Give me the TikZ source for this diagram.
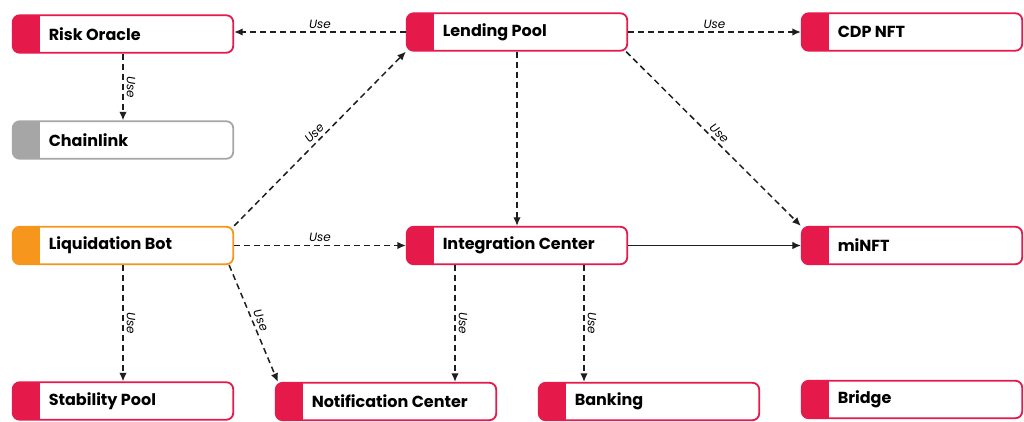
\documentclass[tikz,border=0pt]{standalone}
\usepackage{fontspec}
\setmainfont{Poppins}
\usetikzlibrary{arrows.meta}
\definecolor{cred}{HTML}{E5194A}
\definecolor{corange}{HTML}{F7961C}
\definecolor{cgray}{HTML}{A6A6A6}
\definecolor{cline}{HTML}{1E1E1E}
\tikzset{
  comp/.style={draw=#1, fill=white, line width=1.8pt, rounded corners=7pt,
    minimum width=220.5pt, minimum height=37.5pt, inner xsep=0pt, inner ysep=0pt,
    font=\bfseries\fontsize{16}{18}\selectfont,
    path picture={\fill[#1, sharp corners] (path picture bounding box.south west) rectangle ([xshift=27.5pt]path picture bounding box.north west);}},
  usee/.style={draw=cline, line width=1.5pt, dash pattern=on 6pt off 4pt, -{Latex[length=8.5pt,width=7.5pt]}},
  solidee/.style={draw=cline, line width=1.2pt, -{Latex[length=8.5pt,width=7.5pt]}},
  lbl/.style={font=\itshape\fontsize{12}{14}\selectfont, inner sep=3pt, text=black}
}
\newcommand{\comptext}[1]{\hspace*{36pt}\makebox[184.5pt][l]{#1}}
\begin{document}
\begin{tikzpicture}[x=1pt,y=-1pt]
\fill[white] (0,0) rectangle (1024,421);
\useasboundingbox (0,0) rectangle (1024,421);

\node[comp=cred]    (ro)  at (123,34)    {\comptext{Risk Oracle}};
\node[comp=cgray]   (cl)  at (123,140)   {\comptext{Chainlink}};
\node[comp=corange] (lb)  at (123,245.5) {\comptext{Liquidation Bot}};
\node[comp=cred]    (sp)  at (123,401)   {\comptext{Stability Pool}};
\node[comp=cred]    (lp)  at (517,32)    {\comptext{Lending Pool}};
\node[comp=cred]    (ic)  at (517,245.5) {\comptext{Integration Center}};
\node[comp=cred]    (nc)  at (386,401.5) {\comptext{Notification Center}};
\node[comp=cred]    (bk)  at (649,401.5) {\comptext{Banking}};
\node[comp=cred]    (cdp) at (912,32)    {\comptext{CDP NFT}};
\node[comp=cred]    (mi)  at (912,245.5) {\comptext{miNFT}};
\node[comp=cred]    (br)  at (912,399.5) {\comptext{Bridge}};

\coordinate (icA) at ([xshift=-62pt]ic.south);
\coordinate (icB) at ([xshift=67pt]ic.south);
\coordinate (lbN) at ([xshift=-5pt]lb.south east);
\coordinate (ncT) at ([xshift=3pt]nc.north west);
\coordinate (lpS) at ([xshift=-2pt]lp.south east);

\draw[usee] (lp.west) -- (ro.east |- lp.west) node[lbl, midway, above] {Use};
\draw[usee] (ro.south) -- (cl.north) node[lbl, midway, rotate=-90, anchor=south] {Use};
\draw[usee] (lb.north east) -- (lp.south west) node[lbl, midway, sloped, above] {Use};
\draw[usee] (lb.east) -- (ic.west) node[lbl, midway, above] {Use};
\draw[usee] (lb.south) -- (sp.north) node[lbl, midway, rotate=-90, anchor=south] {Use};
\draw[usee] (lbN) -- (ncT) node[lbl, midway, sloped, above] {Use};
\draw[usee] (lp.east) -- (cdp.west) node[lbl, midway, above] {Use};
\draw[usee] (lp.south) -- (ic.north);
\draw[usee] (lpS) -- (mi.north west) node[lbl, midway, sloped, above] {Use};
\draw[solidee] (ic.east) -- (mi.west);
\draw[usee] (icA) -- (icA |- nc.north) node[lbl, midway, rotate=-90, anchor=south] {Use};
\draw[usee] (icB) -- (icB |- bk.north) node[lbl, midway, rotate=-90, anchor=south] {Use};
\end{tikzpicture}
\end{document}
